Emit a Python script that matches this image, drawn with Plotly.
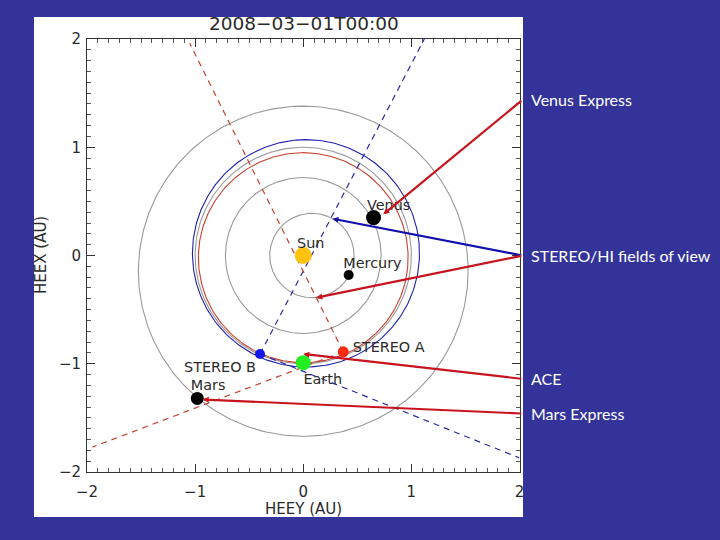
import numpy as np
import plotly.graph_objects as go

W, H = 720, 540
BG = "#333399"
GREY = "#999999"
INK = "#2a2a2a"
RED_DASH = "#c8402f"
BLUE_DASH = "#2a2aa8"
ARROW_RED = "#c8141e"
ARROW_BLUE = "#1010b0"
FONT = "DejaVu Sans"

# orbits
orbit_names = ["Mercury", "Venus", "Earth", "STEREO A", "STEREO B", "Mars"]
orbit_cy = [0.08, 0.0, 0.0, 0.0, 0.025, 0.0]
orbit_cx = [0.0, 0.0, 0.0, -0.02, 0.02, -0.145]
orbit_r = [0.39, 0.72, 1.0, 0.97, 1.05, 1.525]
orbit_colors = [GREY, GREY, GREY, "#c8402f", "#2020b0", GREY]

# bodies
body_names = ["Sun", "Earth", "STEREO A", "STEREO B", "Venus", "Mercury", "Mars"]
body_y = [0.0, 0.0, 0.37, -0.40, 0.65, 0.42, -0.98]
body_x = [0.0, -0.99, -0.89, -0.91, 0.35, -0.18, -1.32]
body_size = [17, 15, 11, 10, 15, 10, 13]
body_colors = ["#ffc20e", "#22ee22", "#ff2a10", "#1515ee", "#000000", "#000000", "#000000"]

# body labels
label_text = ["Sun", "Earth", "STEREO A", "STEREO B", "Venus", "Mercury", "Mars"]
label_y = [0.07, 0.18, 0.79, -0.77, 0.79, 0.64, -0.88]
label_x = [0.10, -1.15, -0.86, -1.04, 0.45, -0.08, -1.21]

# fields of view
fov_blue_y = [[-0.40, 1.12], [-0.40, 2.0]]
fov_blue_x = [[-0.91, 2.0], [-0.91, -1.87]]
fov_red_y = [[0.37, -1.05], [0.37, -1.95]]
fov_red_x = [[-0.89, 1.96], [-0.89, -1.77]]

# callouts
call_text = ["Venus Express", "STEREO/HI fields of view", "ACE", "Mars Express"]
call_label_x = [1.44, 0.0, -1.14, -1.46]
arrow_tip_y = [0.74, 0.27, 0.12, 0.0, -0.93]
arrow_tip_x = [0.38, 0.34, -0.39, -0.91, -1.33]
arrow_tail_x = [1.44, 0.0, 0.0, -1.14, -1.46]
arrow_colors = [ARROW_RED, ARROW_BLUE, ARROW_RED, ARROW_RED, ARROW_RED]

ticks = [-2, -1, 0, 1, 2]
tick_labels = ["−2", "−1", "0", "1", "2"]

fig = go.Figure()
theta = np.radians(np.arange(0, 361, 1))
for cy, cx, r, c in zip(orbit_cy, orbit_cx, orbit_r, orbit_colors):
    fig.add_trace(go.Scatter(x=cy + r * np.sin(theta), y=cx + r * np.cos(theta), mode="lines",
                             line=dict(color=c, width=1.1), hoverinfo="skip"))
for xs, ys, c in [(fov_blue_y, fov_blue_x, BLUE_DASH), (fov_red_y, fov_red_x, RED_DASH)]:
    for a, b in zip(xs, ys):
        fig.add_trace(go.Scatter(x=a, y=b, mode="lines",
                                 line=dict(color=c, width=1.2, dash="6px,5px"), hoverinfo="skip"))
fig.add_trace(go.Scatter(x=body_y, y=body_x, mode="markers", text=body_names,
                         marker=dict(size=body_size, color=body_colors, opacity=1, line=dict(width=0))))
fig.add_trace(go.Scatter(x=label_y, y=label_x, mode="text", text=label_text,
                         textposition="middle center", textfont=dict(family=FONT, size=14.4, color=INK),
                         hoverinfo="skip"))

ann = []
TAIL = 2.03
for ty, tx, tail, c in zip(arrow_tip_y, arrow_tip_x, arrow_tail_x, arrow_colors):
    ann.append(dict(x=ty, y=tx, ax=TAIL, ay=tail, xref="x", yref="y", axref="x", ayref="y",
                    text="", showarrow=True, arrowhead=2, arrowsize=0.55, arrowwidth=2.2, arrowcolor=c))
for t, yy in zip(call_text, call_label_x):
    ann.append(dict(x=528.5 / W, y=yy, xref="paper", yref="y", text=t, showarrow=False, xanchor="left",
                    font=dict(family="Lato", size=16, color="white")))
ann.append(dict(x=303.5 / W, y=1 - 24 / H, xref="paper", yref="paper", text="2008−03−01T00:00", showarrow=False,
                yanchor="middle", font=dict(family=FONT, size=18.5, color=INK)))
ann.append(dict(x=303.5 / W, y=1 - 509 / H, xref="paper", yref="paper", text="HEEY (AU)", showarrow=False,
                yanchor="middle", font=dict(family=FONT, size=15, color=INK)))
ann.append(dict(x=41 / W, y=1 - 255 / H, xref="paper", yref="paper", text="HEEX (AU)", textangle=-90, showarrow=False,
                yanchor="middle", xanchor="center", font=dict(family=FONT, size=15, color=INK)))

axis = dict(range=[-2, 2], tickvals=ticks, ticktext=tick_labels, showgrid=False, zeroline=False, automargin=False,
            ticks="inside", ticklen=8, tickwidth=1, tickcolor="#333333", showline=True, linecolor="#333333",
            linewidth=1, mirror="allticks", tickfont=dict(family=FONT, size=15, color=INK),
            minor=dict(dtick=0.1, tick0=0, ticks="inside", ticklen=4, tickwidth=1, tickcolor="#555555", showgrid=False))

fig.update_layout(width=W, height=H, autosize=False, showlegend=False, paper_bgcolor=BG,
                  plot_bgcolor="rgba(0,0,0,0)", margin=dict(l=0, r=0, t=0, b=0, pad=0),
                  xaxis=dict(axis, domain=[87 / W, 519.5 / W], ticklabelstandoff=6),
                  yaxis=dict(axis, domain=[1 - 472 / H, 1 - 39 / H], ticklabelstandoff=2),
                  annotations=ann,
                  shapes=[dict(type="rect", xref="paper", yref="paper", x0=34 / W, x1=523 / W,
                               y0=1 - 517 / H, y1=1 - 17 / H, fillcolor="white", line=dict(width=0), layer="below")])
fig.write_html("out.html", config=dict(displayModeBar=False),
               post_script="document.body.style.margin='0';document.body.style.background='#333399';document.body.style.overflow='hidden';")
